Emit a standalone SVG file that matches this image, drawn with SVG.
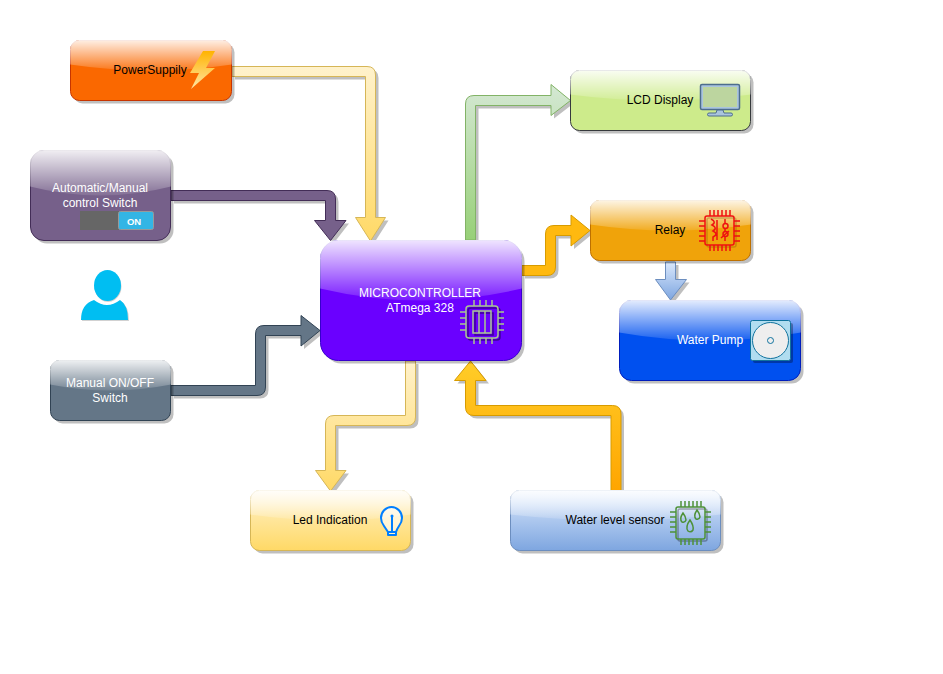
<svg xmlns="http://www.w3.org/2000/svg" width="943" height="674" viewBox="0 0 943 674">
<defs>
<linearGradient id="glass" x1="0" y1="0" x2="0" y2="1"><stop offset="0" stop-color="#fff" stop-opacity="0.9"/><stop offset="1" stop-color="#fff" stop-opacity="0.1"/></linearGradient>
<linearGradient id="ledg" x1="0" y1="0" x2="0" y2="1"><stop offset="0" stop-color="#fff2cc"/><stop offset="1" stop-color="#ffd966"/></linearGradient>
<linearGradient id="wlg" x1="0" y1="0" x2="0" y2="1"><stop offset="0" stop-color="#dae8fc"/><stop offset="1" stop-color="#7ea6e0"/></linearGradient>
<linearGradient id="bolt" x1="0" y1="0" x2="0" y2="1"><stop offset="0" stop-color="#ffb300"/><stop offset="1" stop-color="#ffe6a8"/></linearGradient>
<linearGradient id="gYel" x1="0" y1="0" x2="0" y2="1"><stop offset="0" stop-color="#fff2cc"/><stop offset="1" stop-color="#ffd966"/></linearGradient>
<linearGradient id="gGreen" x1="0" y1="0" x2="0" y2="1"><stop offset="0" stop-color="#d5e8d4"/><stop offset="1" stop-color="#97d077"/></linearGradient>
<linearGradient id="gBlue" x1="0" y1="0" x2="0" y2="1"><stop offset="0" stop-color="#dae8fc"/><stop offset="1" stop-color="#7ea6e0"/></linearGradient>
<linearGradient id="gOr" x1="0" y1="0" x2="0" y2="1"><stop offset="0" stop-color="#ffcd28"/><stop offset="1" stop-color="#ffa500"/></linearGradient>
<path id="pPower" d="M232 66.500H367Q375.500 66.500 375.500 75V217.500H385.500L370.500 241L355.500 217.500H365.500V76.500H232Z"/>
<path id="pAuto" d="M171 190.500H327Q335.500 190.500 335.500 199V220.500H346L330.500 240.500L314.500 220.500H325.500V200.500H171Z"/>
<path id="pManual" d="M171 385.500H255.500V334Q255.500 325.500 264 325.500H301V315.500L320 330.500L301 346V335.500H265.500V387Q265.500 395.500 257 395.500H171Z"/>
<path id="pLcd" d="M465.500 240V104Q465.500 95.500 474 95.500H551V84.500L570.500 100.500L551 115.500V105.500H475.500V240Z"/>
<path id="pRelay" d="M522 265.500H545.500V234Q545.500 225.500 554 225.500H571V215L590 230.500L571 246V235.500H555.500V267Q555.500 275.500 547 275.500H522Z"/>
<path id="pPump" d="M665.500 262H675.500V279.500H686.500L670.500 300L655.500 279.500H665.500Z"/>
<path id="pLed" d="M405.500 361H415.500V417Q415.500 425.500 407 425.500H335.500V470.500H346L330.500 491L315.500 470.500H325.500V424Q325.500 415.500 334 415.500H405.500Z"/>
<path id="pLevel" d="M611 490.500V415.500H474Q465.500 415.500 465.500 407V380.500H454.500L470.500 361L486 380.500H475.500V405.500H612.500Q621 405.500 621 414V490.500Z"/>
</defs>
<style>
text{font-family:"Liberation Sans",Arial,sans-serif;font-size:12px;text-anchor:middle}
.w{fill:#fff}.k{fill:#000}
.s{fill:#000;fill-opacity:.25}
.g{fill:url(#glass)}
</style>
<rect width="943" height="674" fill="#fff"/>
<g id="connectors">
<g id="c-power"><use href="#pPower" transform="translate(3,3)" class="s"/><use href="#pPower" fill="url(#gYel)" stroke="#d6b656"/></g>
<g id="c-auto"><use href="#pAuto" transform="translate(3,3)" class="s"/><use href="#pAuto" fill="#76608a" stroke="#432d57"/></g>
<g id="c-manual"><use href="#pManual" transform="translate(3,3)" class="s"/><use href="#pManual" fill="#647687" stroke="#314354"/></g>
<g id="c-lcd"><use href="#pLcd" transform="translate(3,3)" class="s"/><use href="#pLcd" fill="url(#gGreen)" stroke="#82b366"/></g>
<g id="c-relay"><use href="#pRelay" transform="translate(3,3)" class="s"/><use href="#pRelay" fill="#ffb90f" stroke="#d79b00"/></g>
<g id="c-pump"><use href="#pPump" transform="translate(3,3)" class="s"/><use href="#pPump" fill="url(#gBlue)" stroke="#6c8ebf"/></g>
<g id="c-led"><use href="#pLed" transform="translate(3,3)" class="s"/><use href="#pLed" fill="url(#gYel)" stroke="#d6b656"/></g>
<g id="c-level"><use href="#pLevel" transform="translate(3,3)" class="s"/><use href="#pLevel" fill="url(#gOr)" stroke="#d79b00"/></g>
</g>
<g id="power">
<rect x="73.500" y="43.500" width="161" height="60" rx="9" class="s"/>
<rect x="70.500" y="40.500" width="161" height="60" rx="9" fill="#fa6800" stroke="#c73500"/>
<path d="M70 64.500V49.500Q70 40 79.500 40H222.500Q232 40 232 49.500V64.500Q151 76.500 70 64.500Z" class="g"/>
<text x="150" y="74" class="k">PowerSuppily</text>
<path d="M203 51H215L206 68H215L191 89L199 73H190Z" fill="url(#bolt)"/>
</g>
<g id="auto">
<rect x="33.500" y="153.500" width="140" height="90" rx="13.500" class="s"/>
<rect x="30.500" y="150.500" width="140" height="90" rx="13.500" fill="#76608a" stroke="#432d57"/>
<path d="M30 186.500V164Q30 150 44 150H157Q171 150 171 164V186.500Q100.500 204.500 30 186.500Z" class="g"/>
<text x="100" y="192" class="w">Automatic/Manual</text>
<text x="100" y="207" class="w">control Switch</text>
<rect x="80" y="211" width="39" height="19" fill="#666"/>
<rect x="118.500" y="211.500" width="35" height="18" rx="2" fill="#33b5e5" stroke="#999"/>
<text x="134" y="224.500" class="w" style="font-size:9.500px;font-weight:bold">ON</text>
</g>
<g id="user">
<path d="M81 320Q81 304 94 300Q107 310 120 300Q128 305 128 320Z M107 270a13.500 15.500 0 1 0 .1 0Z" transform="translate(1,1)" fill="#000" fill-opacity=".18"/>
<path d="M81 320Q81 304 94 300Q107 310 120 300Q128 305 128 320Z" fill="#00bef2"/>
<ellipse cx="107.500" cy="285.500" rx="13.500" ry="15.500" fill="#00bef2"/>
</g>
<g id="manual">
<rect x="53.500" y="363.500" width="120" height="60" rx="9" class="s"/>
<rect x="50.500" y="360.500" width="120" height="60" rx="9" fill="#647687" stroke="#314354"/>
<path d="M50 384.500V369.500Q50 360 59.500 360H161.500Q171 360 171 369.500V384.500Q110.500 396.500 50 384.500Z" class="g"/>
<text x="110" y="387" class="w">Manual ON/OFF</text>
<text x="110" y="402" class="w">Switch</text>
</g>
<g id="mcu">
<rect x="323.500" y="243.500" width="201" height="120" rx="18" class="s"/>
<rect x="320.500" y="240.500" width="201" height="120" rx="18" fill="#6a00ff" stroke="#3700cc"/>
<path d="M320 288.500V258.500Q320 240 338.500 240H503.500Q522 240 522 258.500V288.500Q421 312.500 320 288.500Z" class="g"/>
<text x="420" y="297" class="w">MICROCONTROLLER</text>
<text x="420" y="312" class="w">ATmega 328</text>
<g transform="translate(2,2)" opacity=".4" fill="none" stroke="#000" stroke-width="1.500"><rect x="466" y="306" width="32" height="32" rx="3"/><path d="M473 311h18v22h-18z"/></g>
<g fill="none" stroke="#a9c98f" stroke-width="1.500">
<rect x="466" y="306" width="32" height="32" rx="3"/>
<path d="M474 300v6M480 300v6M486 300v6M492 300v6M474 338v6M480 338v6M486 338v6M492 338v6M460 312h6M460 318h6M460 324h6M460 330h6M498 312h6M498 318h6M498 324h6M498 330h6"/>
<path d="M473 311h18v22h-18zM479 311v22M485 311v22"/>
</g>
</g>
<g id="lcd">
<rect x="573.500" y="73.500" width="180" height="60" rx="9" class="s"/>
<rect x="570.500" y="70.500" width="180" height="60" rx="9" fill="#cdeb8b" stroke="#36393d"/>
<path d="M570 94.500V79.500Q570 70 579.500 70H741.500Q751 70 751 79.500V94.500Q660.500 106.500 570 94.500Z" class="g"/>
<text x="660" y="104" class="k">LCD Display</text>
<rect x="700.500" y="84.500" width="39" height="25" rx="1.500" fill="#a9c4de" stroke="#4d6d8d" stroke-width="1.500"/>
<rect x="703" y="87" width="34" height="20" fill="#bcd59f"/>
<path d="M717 110h6l1 3h7q1.500 0 1.500 1.500t-1.500 1.500h-22q-1.500 0-1.500-1.500t1.500-1.500h7z" fill="#a9c4de" stroke="#4d6d8d" stroke-linejoin="round"/>
</g>
<g id="relay">
<rect x="593.500" y="203.500" width="160" height="60" rx="9" class="s"/>
<rect x="590.500" y="200.500" width="160" height="60" rx="9" fill="#f0a30a" stroke="#bd7000"/>
<path d="M590 224.500V209.500Q590 200 599.500 200H741.500Q751 200 751 209.500V224.500Q670.500 236.500 590 224.500Z" class="g"/>
<text x="670" y="234" class="k">Relay</text>
<g transform="translate(2,2)" opacity=".3" fill="none" stroke="#7a4a00" stroke-width="1.500"><rect x="705" y="216" width="29" height="29" rx="2"/></g>
<g fill="none" stroke="#ee1111" stroke-width="1.500">
<rect x="705" y="216" width="29" height="29" rx="2"/>
<path d="M710 210v6M714 210v6M718 210v6M722 210v6M726 210v6M730 210v6M710 245v6M714 245v6M718 245v6M722 245v6M726 245v6M730 245v6M699 221h6M699 226h6M699 231h6M699 236h6M699 241h6M734 221h6M734 226h6M734 231h6M734 236h6M734 241h6"/>
<path d="M711 219q6 3 1 6q6 3 1 6q6 3 0 6v4M717 220v20M725 219v4M725 229v2M725 237v4M721 238l8-7"/>
<circle cx="725.500" cy="226" r="2.500"/><circle cx="725.500" cy="234" r="2.500"/>
</g>
</g>
<g id="pump">
<rect x="622.500" y="303.500" width="181" height="80" rx="12" class="s"/>
<rect x="619.500" y="300.500" width="181" height="80" rx="12" fill="#0050ef" stroke="#001dbc"/>
<path d="M619 332.500V312.500Q619 300 631.500 300H788.500Q801 300 801 312.500V332.500Q710 348.500 619 332.500Z" class="g"/>
<text x="710" y="344" class="w">Water Pump</text>
<rect x="753" y="323" width="40" height="40" rx="2" fill="#000" fill-opacity=".3"/>
<rect x="750.500" y="320.500" width="40" height="40" rx="2" fill="#b1ddf0" stroke="#10739e"/>
<circle cx="770.500" cy="340.500" r="18" fill="#eee" stroke="#10739e"/>
<circle cx="770.500" cy="340.500" r="3" fill="#eee" stroke="#10739e"/>
</g>
<g id="led">
<rect x="253.500" y="493.500" width="160" height="60" rx="9" class="s"/>
<rect x="250.500" y="490.500" width="160" height="60" rx="9" fill="url(#ledg)" stroke="#d6b656"/>
<path d="M250 514.500V499.500Q250 490 259.500 490H401.500Q411 490 411 499.500V514.500Q330.500 526.500 250 514.500Z" class="g"/>
<text x="330" y="524" class="k">Led Indication</text>
<path d="M388 535h8v-3q1-3 3-6q3-4 3-8a10.500 11 0 1 0-21 0q0 4 3 8q2 3 4 6zM388 532h8M392 531v-14" fill="#fff" fill-opacity=".6" stroke="#007fff" stroke-width="2" stroke-linejoin="round"/>
<circle cx="392" cy="516" r="1.500" fill="#007fff"/>
</g>
<g id="level">
<rect x="513.500" y="493.500" width="210" height="60" rx="9" class="s"/>
<rect x="510.500" y="490.500" width="210" height="60" rx="9" fill="url(#wlg)" stroke="#6c8ebf"/>
<path d="M510 514.500V499.500Q510 490 519.500 490H711.500Q721 490 721 499.500V514.500Q615.500 526.500 510 514.500Z" class="g"/>
<text x="615" y="524" class="k">Water level sensor</text>
<g transform="translate(2,2)" opacity=".3" fill="none" stroke="#000" stroke-width="1.500"><rect x="676" y="507" width="29" height="32" rx="2"/></g>
<g fill="none" stroke="#4d9138" stroke-width="1.500">
<rect x="676" y="507" width="29" height="32" rx="2"/>
<path d="M681 501v6M685 501v6M689 501v6M693 501v6M697 501v6M701 501v6M681 539v6M685 539v6M689 539v6M693 539v6M697 539v6M701 539v6M670 512h6M670 517h6M670 522h6M670 527h6M670 532h6M705 512h6M705 517h6M705 522h6M705 527h6M705 532h6"/>
<path d="M683 513q-4 6-1 9q3 1 4-2q0-3-3-7zM697 510q-4 6-1 9q3 1 4-2q0-3-3-7zM690 520q-5 7-2 11q3 2 5-1q1-4-3-10z"/>
</g>
</g>
</svg>
